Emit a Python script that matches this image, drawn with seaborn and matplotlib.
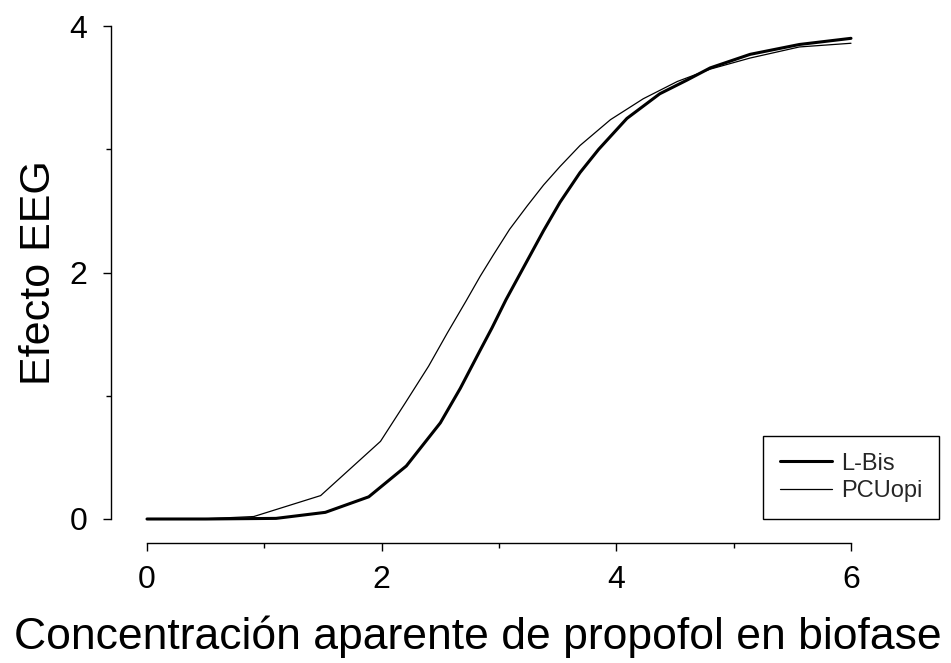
import matplotlib
matplotlib.use("Agg")
import matplotlib.pyplot as plt
from matplotlib.ticker import MultipleLocator
import numpy as np
import pandas as pd
import seaborn as sns

# Apparent propofol concentration in the biophase vs. EEG effect
lbis_conc = [0.0, 0.5, 1.1, 1.52, 1.89, 2.21, 2.5, 2.67, 2.84, 2.94, 3.06, 3.18,
             3.38, 3.52, 3.69, 3.85, 4.09, 4.37, 4.6, 4.8, 5.14, 5.56, 6.0]
lbis_effect = [0.0, 0.0, 0.005, 0.054, 0.18, 0.43, 0.78, 1.06, 1.37, 1.55, 1.78, 1.99,
               2.34, 2.57, 2.81, 3.0, 3.25, 3.45, 3.56, 3.66, 3.77, 3.85, 3.90]

pcu_conc = [0.0, 0.5, 0.91, 1.48, 1.99, 2.2, 2.4, 2.56, 2.72, 2.84, 2.95, 3.09,
            3.24, 3.38, 3.52, 3.69, 3.95, 4.23, 4.52, 4.8, 5.14, 5.56, 6.0]
pcu_effect = [0.0, 0.002, 0.02, 0.19, 0.63, 0.94, 1.24, 1.51, 1.77, 1.97, 2.14, 2.35,
              2.54, 2.71, 2.86, 3.03, 3.24, 3.41, 3.55, 3.65, 3.74, 3.83, 3.86]

x_major = [0, 2, 4, 6]
y_major = [0, 2, 4]

sns.set_theme(style="white")
plt.rcParams["font.family"] = ["Liberation Sans", "DejaVu Sans"]

fig = plt.figure(figsize=(9.51, 6.63), dpi=100)
ax = fig.add_axes([147 / 951, 144 / 663, 704 / 951, 493 / 663])

df_l = pd.DataFrame({"conc": lbis_conc, "effect": lbis_effect})
df_p = pd.DataFrame({"conc": pcu_conc, "effect": pcu_effect})

sns.lineplot(data=df_l, x="conc", y="effect", ax=ax, color="black",
             linewidth=2.2, label="L-Bis", clip_on=False, sort=False)
sns.lineplot(data=df_p, x="conc", y="effect", ax=ax, color="black",
             linewidth=0.9, label="PCUopi", clip_on=False, sort=False)

ax.set_xlim(0, 6)
ax.set_ylim(0, 4)

# detached axes
for side in ("top", "right"):
    ax.spines[side].set_visible(False)
ax.spines["left"].set_position(("outward", 26))
ax.spines["bottom"].set_position(("outward", 17.3))
ax.spines["left"].set_bounds(0, 4)
ax.spines["bottom"].set_bounds(0, 6)
for side in ("left", "bottom"):
    ax.spines[side].set_color("black")
    ax.spines[side].set_linewidth(1.0)

ax.set_xticks(x_major)
ax.set_yticks(y_major)
ax.xaxis.set_minor_locator(MultipleLocator(1))
ax.yaxis.set_minor_locator(MultipleLocator(1))
ax.tick_params(which="major", direction="out", length=6, width=1.0,
               color="black", labelsize=23, labelcolor="black")
ax.tick_params(which="minor", direction="out", length=3.5, width=1.0,
               color="black")
ax.tick_params(axis="x", which="both", bottom=True, pad=10)
ax.tick_params(axis="y", which="both", left=True, pad=11)

ax.set_xlabel("Concentración aparente de propofol en biofase", fontsize=32,
              color="black")
ax.set_ylabel("Efecto EEG", fontsize=31, color="black")
ax.xaxis.set_label_coords(0.470, -0.239)
ax.xaxis.label.set_va("center")
ax.yaxis.set_label_coords(-0.154, 0.5)
ax.yaxis.label.set_va("center")

leg = ax.legend(loc="upper right", bbox_to_anchor=(939 / 951, 1 - 436 / 663),
                bbox_transform=fig.transFigure, borderaxespad=0,
                fontsize=17, frameon=True, fancybox=False, shadow=False,
                handlelength=2.2, handletextpad=0.4, borderpad=0.7,
                labelspacing=0.25)
leg.get_frame().set_edgecolor("black")
leg.get_frame().set_linewidth(1.0)
leg.get_frame().set_facecolor("white")
leg.get_frame().set_alpha(1)

fig.savefig("out.png", dpi=100, facecolor="white")
